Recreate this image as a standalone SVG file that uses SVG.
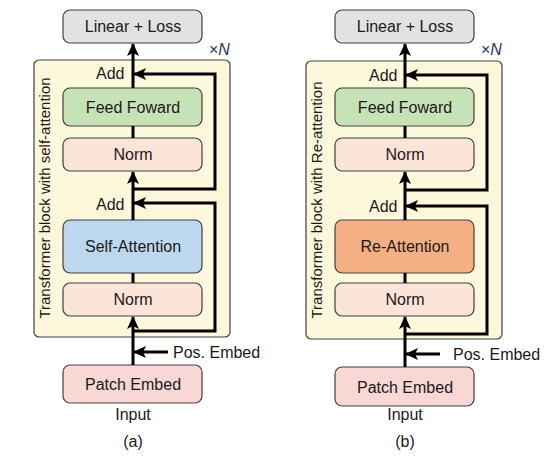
<svg xmlns="http://www.w3.org/2000/svg" width="556" height="468" viewBox="0 0 556 468">
<defs>
<marker id="ah" markerUnits="userSpaceOnUse" markerWidth="14" markerHeight="14" viewBox="0 0 14 14" refX="12" refY="7" orient="auto">
<path d="M0,1 L13,7 L0,13 L3,7 Z" fill="#000"/>
</marker>
<style>
text{font-family:"Liberation Sans","Noto Sans",Arial,sans-serif;font-size:16px;fill:#1a1a1a}
.c{text-anchor:middle}
.v{font-size:15px}
.box{stroke:#404040;stroke-width:1.2}
.blk{fill:#fdf8dc;stroke:#404040;stroke-width:1.2}
.ln{fill:none;stroke:#000;stroke-width:3}
.ar{fill:none;stroke:#000;stroke-width:3;marker-end:url(#ah)}
.gray{fill:#e2e2e2}
.green{fill:#c8e2b8}
.norm{fill:#fbe4d8}
.blue{fill:#bdd7ee}
.orange{fill:#f4b084}
.pink{fill:#f8d7d4}
.xn{fill:#1f3864;font-size:16px}
</style>
</defs>

<!-- Panel (a) -->
<g id="blockA"><rect class="blk" x="34" y="60" width="196" height="277" rx="5"/>
<text class="c v" transform="translate(50,198) rotate(-90)">Transformer block with self-attention</text>
<text class="xn" x="209" y="55">×<tspan font-style="italic">N</tspan></text></g>
<g id="lossA"><rect class="box gray" x="63" y="10" width="139" height="33" rx="7"/><text class="c" x="133" y="32">Linear + Loss</text></g>
<g id="ffA"><rect class="box green" x="63" y="88" width="139" height="38" rx="7"/><text class="c" x="133" y="113">Feed Foward</text></g>
<g id="norm2A"><rect class="box norm" x="63" y="138" width="139" height="33" rx="7"/><text class="c" x="133" y="160">Norm</text></g>
<g id="attA"><rect class="box blue" x="63" y="220" width="139" height="53" rx="7"/><text class="c" x="133" y="252">Self-Attention</text></g>
<g id="norm1A"><rect class="box norm" x="63" y="283" width="139" height="33" rx="7"/><text class="c" x="133" y="305">Norm</text></g>
<g id="patchA"><rect class="box pink" x="63" y="365" width="139" height="38" rx="7"/><text class="c" x="133" y="390">Patch Embed</text></g>
<g id="labelsA">
<text x="96" y="79">Add</text>
<text x="96" y="210">Add</text>
<text x="173" y="358">Pos. Embed</text>
<text class="c" x="133" y="420">Input</text>
<text class="c" x="133" y="447">(a)</text>
</g>

<!-- Panel (b) -->
<g id="blockB"><rect class="blk" x="306" y="61" width="196" height="278" rx="5"/>
<text class="c v" transform="translate(322,200) rotate(-90)">Transformer block with Re-attention</text>
<text class="xn" x="481" y="55">×<tspan font-style="italic">N</tspan></text></g>
<g id="lossB"><rect class="box gray" x="335" y="10" width="139" height="33" rx="7"/><text class="c" x="405" y="32">Linear + Loss</text></g>
<g id="ffB"><rect class="box green" x="335" y="88" width="139" height="38" rx="7"/><text class="c" x="405" y="113">Feed Foward</text></g>
<g id="norm2B"><rect class="box norm" x="335" y="138" width="139" height="33" rx="7"/><text class="c" x="405" y="160">Norm</text></g>
<g id="attB"><rect class="box orange" x="335" y="220" width="139" height="53" rx="7"/><text class="c" x="405" y="252">Re-Attention</text></g>
<g id="norm1B"><rect class="box norm" x="335" y="283" width="139" height="33" rx="7"/><text class="c" x="405" y="305">Norm</text></g>
<g id="patchB"><rect class="box pink" x="335" y="367" width="139" height="39" rx="7"/><text class="c" x="405" y="393">Patch Embed</text></g>
<g id="labelsB">
<text x="369" y="81">Add</text>
<text x="369" y="212">Add</text>
<text x="453" y="360">Pos. Embed</text>
<text class="c" x="405" y="420">Input</text>
<text class="c" x="405" y="447">(b)</text>
</g>

<g id="connectors">
<path class="ar" d="M133,365 V317"/>
<path class="ln" d="M133,283 V273"/>
<path class="ar" d="M133,220 V172"/>
<path class="ln" d="M133,138 V126"/>
<path class="ar" d="M133,88 V44"/>
<path class="ar" d="M133,189 H215 V74 H134"/>
<path class="ar" d="M133,331 H215 V203 H134"/>
<path class="ar" d="M168,352 H134"/>

<path class="ar" d="M405,367 V317"/>
<path class="ln" d="M405,283 V273"/>
<path class="ar" d="M405,220 V172"/>
<path class="ln" d="M405,138 V126"/>
<path class="ar" d="M405,88 V44"/>
<path class="ar" d="M405,190 H487 V75 H406"/>
<path class="ar" d="M405,334 H487 V206 H406"/>
<path class="ar" d="M440,354 H406"/>
</g>
</svg>
